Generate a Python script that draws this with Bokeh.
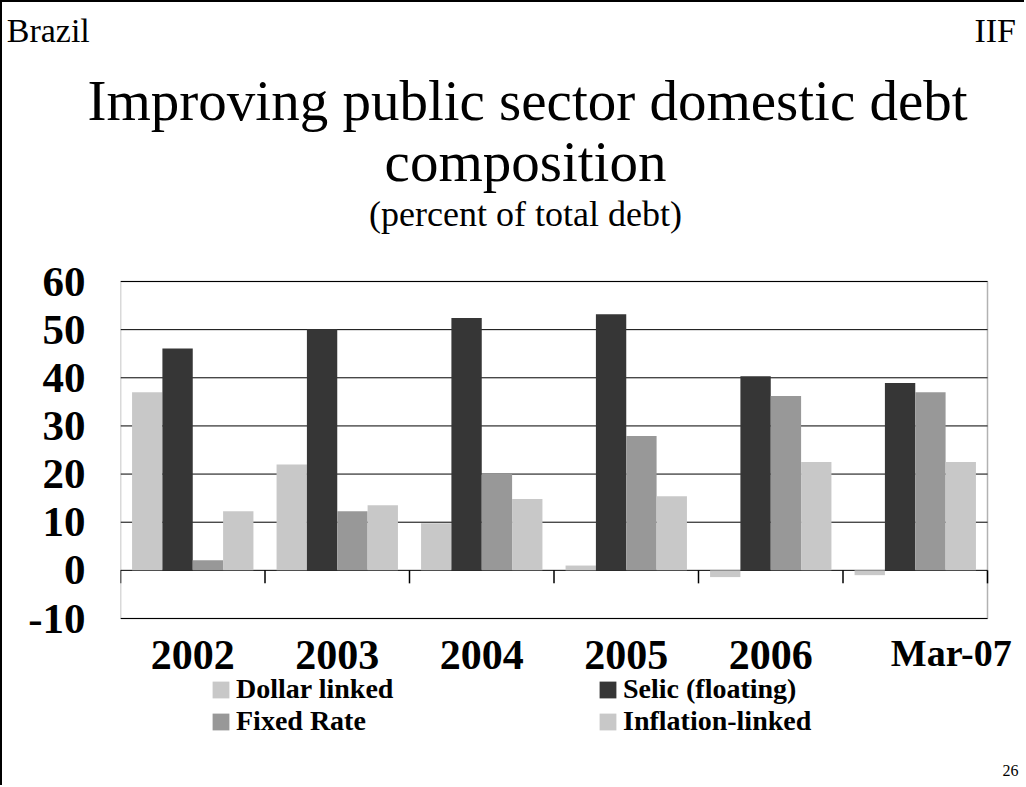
from bokeh.plotting import figure
from bokeh.models import (FixedTicker, Legend, LegendItem, Range1d, LinearAxis,
                          BoxAnnotation, Title)
from bokeh.core.properties import value
from bokeh.embed import file_html
from bokeh.resources import INLINE

# ---- data ----
categories = ["2002", "2003", "2004", "2005", "2006", "Mar-07"]
dollar_linked = [37.0, 22.0, 9.8, 1.0, -1.4, -1.0]
selic_floating = [46.1, 50.1, 52.4, 53.2, 40.3, 38.9]
fixed_rate = [2.1, 12.3, 20.0, 27.9, 36.2, 37.0]
inflation_linked = [12.3, 13.5, 14.8, 15.4, 22.5, 22.5]
y_ticks = [-10, 0, 10, 20, 30, 40, 50, 60]

series_names = ["Dollar linked", "Selic (floating)", "Fixed Rate", "Inflation-linked"]
series_values = [dollar_linked, selic_floating, fixed_rate, inflation_linked]
series_colors = ["#C8C8C8", "#363636", "#989898", "#C8C8C8"]

FONT = "Liberation Serif"
NB = "\u00a0"

# ---- page geometry (pixels) ----
PAGE_BORDER = 2
FIG_W, FIG_H = 1024, 785
TOP_BORDER = 129           # room for the "Brazil / IIF" row and first title line
LEFT_BORDER = 118          # room for the value axis labels
BOX_L, BOX_R = 120, 987    # chart box, page pixels
BOX_T, BOX_B = 281, 618
frame_top = PAGE_BORDER + TOP_BORDER
frame_left = PAGE_BORDER + LEFT_BORDER
frame_right = PAGE_BORDER + FIG_W
frame_bottom = PAGE_BORDER + FIG_H

n = len(categories)
ppx = (BOX_R - BOX_L) / n
ppy = (BOX_B - BOX_T) / (y_ticks[-1] - y_ticks[0])
x_start = -(BOX_L - frame_left) / ppx
x_end = n + (frame_right - BOX_R) / ppx
y_end = y_ticks[-1] + (BOX_T - frame_top) / ppy
y_start = y_ticks[0] - (frame_bottom - BOX_B) / ppy

centers = [i + 0.5 for i in range(n)]
bar_w = 0.21
offsets = [-0.315, -0.105, 0.105, 0.315]

p = figure(width=FIG_W, height=FIG_H, output_backend="svg", toolbar_location=None,
           title=None, x_axis_location=None,
           x_range=Range1d(x_start, x_end), y_range=Range1d(y_start, y_end),
           min_border_left=LEFT_BORDER, min_border_right=0, min_border_top=TOP_BORDER,
           min_border_bottom=0, background_fill_color="white",
           border_fill_color="white")
p.styles = {"border-left": "2px solid black", "border-top": "2px solid black"}
p.outline_line_color = None
p.grid.visible = False

# horizontal grid lines across the chart box
p.segment(x0=[0] * len(y_ticks), x1=[n] * len(y_ticks), y0=y_ticks, y1=y_ticks,
          line_color="black", line_width=1)

renderers = []
for vals, off, col in zip(series_values, offsets, series_colors):
    r = p.vbar(x=[c + off for c in centers], top=vals, bottom=0, width=bar_w,
               fill_color=col, line_color=None)
    renderers.append(r)

# tick marks on the zero line at category boundaries
TICK_LEN = 2.7
bounds = list(range(n + 1))
p.segment(x0=bounds, y0=[0] * len(bounds), x1=bounds, y1=[-TICK_LEN] * len(bounds),
          line_color="black", line_width=1.5)

# chart box
p.add_layout(BoxAnnotation(left=0, right=n, bottom=y_ticks[0], top=y_ticks[-1],
                           fill_alpha=0, line_color="black", line_width=1.5))

# value axis
p.yaxis.ticker = FixedTicker(ticks=y_ticks)
p.yaxis.major_label_overrides = {t: str(t) for t in y_ticks}
p.yaxis.axis_line_color = None
p.yaxis.major_tick_line_color = None
p.yaxis.major_tick_out = 0
p.yaxis.major_tick_in = 0
p.yaxis.minor_tick_line_color = None
p.yaxis.major_label_standoff = 35
p.yaxis.major_label_text_font = FONT
p.yaxis.major_label_text_font_style = "bold"
p.yaxis.major_label_text_font_size = "43px"
p.yaxis.major_label_text_color = "black"

# category labels under the chart box
p.text(x=centers[:-1], y=[y_ticks[0]] * (n - 1), text=categories[:-1], y_offset=36,
       text_font=value(FONT), text_font_style="bold", text_font_size="42px",
       text_align="center", text_baseline="alphabetic", text_color="black")
p.text(x=centers[-1:], y=[y_ticks[0]], text=categories[-1:], x_offset=36, y_offset=34,
       text_font=value(FONT), text_font_style="bold", text_font_size="38px",
       text_align="center", text_baseline="alphabetic", text_color="black")

# legends (two columns)
def make_legend(items, xloc):
    return Legend(items=items, location=(xloc, 50), orientation="vertical",
                  glyph_width=21, glyph_height=21, label_standoff=5, spacing=0,
                  label_height=30, padding=0, margin=0, border_line_color=None,
                  background_fill_alpha=0, label_text_font=FONT,
                  label_text_font_style="bold", label_text_font_size="28px",
                  label_text_color="black")

p.add_layout(make_legend([LegendItem(label=series_names[0], renderers=[renderers[0]]),
                          LegendItem(label=series_names[2], renderers=[renderers[2]])], 90))
p.add_layout(make_legend([LegendItem(label=series_names[1], renderers=[renderers[1]]),
                          LegendItem(label=series_names[3], renderers=[renderers[3]])], 477))

# titles
def ttext(t, yoff, size):
    p.text(x=[0], y=[y_ticks[-1]], text=[t], x_offset=405, y_offset=yoff,
           text_font=value(FONT), text_font_size=size, text_align="center",
           text_baseline="alphabetic", text_color="black")

ttext("composition", -120, "57px")
ttext("(percent of total debt)", -68, "36px")

# page number
p.text(x=[n], y=[y_ticks[0]], text=["26"], x_offset=31, y_offset=152,
       text_font=value(FONT), text_font_size="16px", text_align="right",
       text_baseline="alphabetic", text_color="black")

# first title line (wider than the plotting area, so it lives above it)
p.add_layout(Title(text="Improving public sector domestic debt", align="left",
                   offset=-33, standoff=0, text_font=FONT, text_font_size="57px",
                   text_font_style="normal", text_color="black"), "above")

# slide header row: "Brazil" (left) and "IIF" (right)
p.extra_x_ranges = {"hdr": Range1d(0, 1)}
hdr_axis = LinearAxis(x_range_name="hdr", ticker=FixedTicker(ticks=[0, 1]),
                      major_label_overrides={0: "Brazil" + NB * 17, 1: "IIF" + NB},
                      axis_line_color=None, major_tick_line_color=None,
                      minor_tick_line_color=None, major_label_standoff=12,
                      major_label_text_font=FONT, major_label_text_font_size="34px",
                      major_label_text_color="black")
p.add_layout(hdr_axis, "above")

open("out.html", "w").write(file_html(p, INLINE))
